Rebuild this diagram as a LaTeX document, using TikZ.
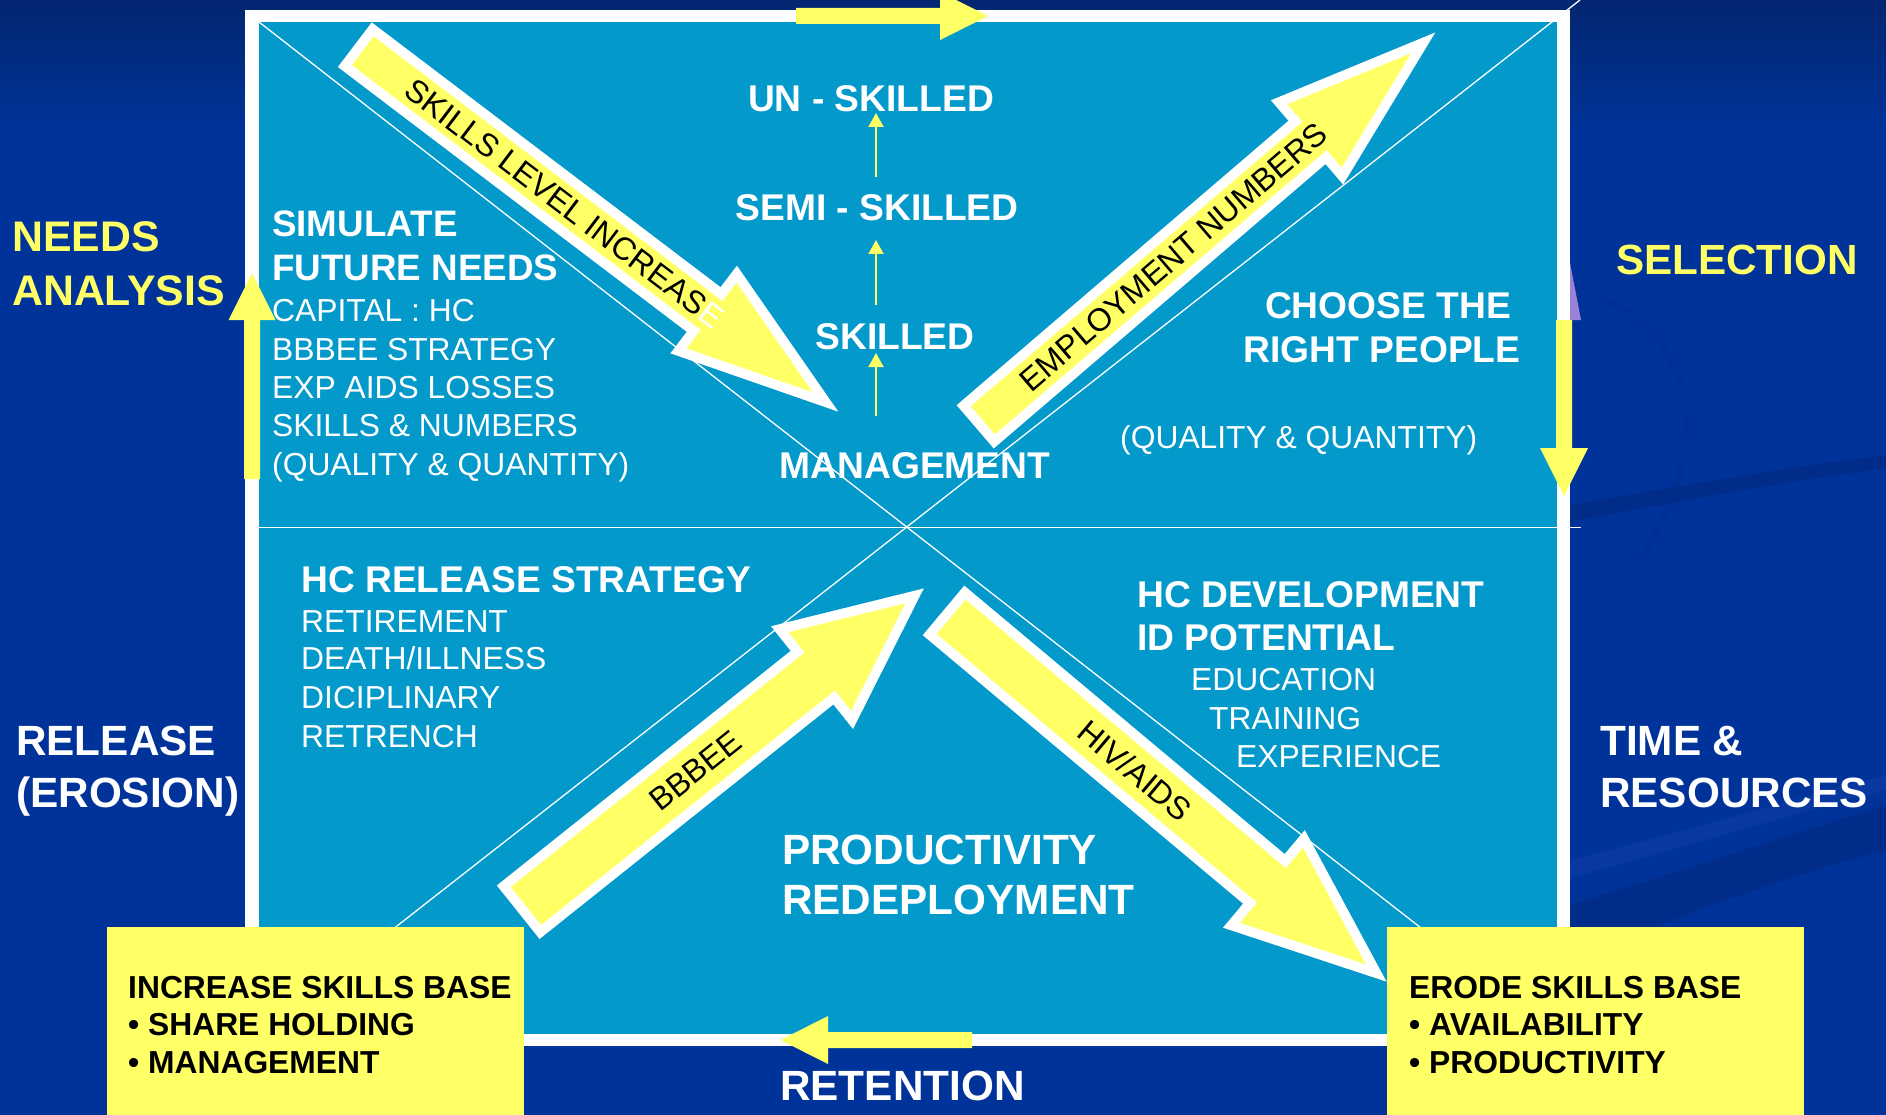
\documentclass[tikz,border=0pt]{standalone}
\usepackage{fontspec}
\setmainfont{Liberation Sans}
\usetikzlibrary{arrows.meta,calc}
\definecolor{bgblue}{HTML}{003399}
\definecolor{bgtop}{HTML}{022670}
\definecolor{panel}{HTML}{0399CB}
\definecolor{yel}{HTML}{FFFF66}
\definecolor{swdark}{HTML}{012C8A}
\definecolor{swlight}{HTML}{0838A0}
\definecolor{lav}{HTML}{9B82D9}

% block arrow with white outline: #1 name, #2 #3 tail centre, #4 angle, #5 length,
% #6 shaft width, #7 head width, #8 head length (outer dimensions)
\newcommand\blockarrow[8]{%
  \pgfmathsetmacro\BAhalf{atan((#7/2)/#8)}%
  \pgfmathsetmacro\BAt{10}%
  \pgfmathsetmacro\BAxa{#5-#8}%
  \pgfmathsetmacro\BAxb{#5-#8+\BAt}%
  \pgfmathsetmacro\BAwo{#6/2}%
  \pgfmathsetmacro\BAwi{#6/2-\BAt}%
  \pgfmathsetmacro\BAho{#7/2}%
  \pgfmathsetmacro\BAhi{(#7/2)*(#8-\BAt)/#8-\BAt/cos(\BAhalf)}%
  \pgfmathsetmacro\BAtip{#5-\BAt/sin(\BAhalf)}%
  \begin{scope}[shift={(#2,#3)},rotate=#4]
    \coordinate (#1-tail) at (0,0);
    \coordinate (#1-tip) at (#5,0);
    \fill[white] (0,-\BAwo) -- (\BAxa,-\BAwo) -- (\BAxa,-\BAho) -- (#5,0)
      -- (\BAxa,\BAho) -- (\BAxa,\BAwo) -- (0,\BAwo) -- cycle;
    \fill[yel] (\BAt,-\BAwi) -- (\BAxb,-\BAwi) -- (\BAxb,-\BAhi) -- (\BAtip,0)
      -- (\BAxb,\BAhi) -- (\BAxb,\BAwi) -- (\BAt,\BAwi) -- cycle;
  \end{scope}}

\tikzset{
  ylab/.style={text=yel, font=\bfseries\fontsize{42.8}{48}\selectfont, inner sep=0, anchor=base west},
  wlab/.style={text=white, font=\bfseries\fontsize{42.3}{48}\selectfont, inner sep=0, anchor=base west},
  whead/.style={text=white, font=\bfseries\fontsize{37.2}{44}\selectfont, inner sep=0, anchor=base west},
  wbody/.style={text=white, font=\fontsize{31.8}{38}\selectfont, inner sep=0, anchor=base west},
  btxt/.style={text=black, font=\bfseries\fontsize{31.8}{37}\selectfont, inner sep=0, anchor=base west},
  atxt/.style={text=black, font=\fontsize{32}{38}\selectfont, inner sep=0, anchor=center},
  thinarr/.style={draw=yel, line width=2pt, -{Triangle[length=14pt,width=15pt]}},
  gridline/.style={draw=white, line width=1.3pt},
  yelbox/.style={fill=yel},
}

\begin{document}
\begin{tikzpicture}[x=1pt,y=-1pt]
\useasboundingbox (0,0) rectangle (1886,1115);
\clip (0,0) rectangle (1886,1115);

% background
\fill[bgblue] (0,0) rectangle (1886,1115);
\shade[top color=bgtop, bottom color=bgblue] (0,0) rectangle (1886,130);
% swooshes on the right
\fill[swdark] (1570,505) .. controls (1700,482) and (1800,466) .. (1886,455)
  -- (1886,468) .. controls (1800,480) and (1700,497) .. (1570,522) -- cycle;
\fill[swdark] (1570,905) .. controls (1690,868) and (1790,835) .. (1886,805)
  -- (1886,850) .. controls (1780,878) and (1680,915) .. (1570,962) -- cycle;
\fill[swlight] (1570,860) .. controls (1690,830) and (1790,800) .. (1886,775)
  -- (1886,790) .. controls (1790,815) and (1690,845) .. (1570,878) -- cycle;
\draw[swdark, line width=8pt, opacity=0.35] (1600,300) .. controls (1690,330) and (1720,440) .. (1640,560);
\fill[lav] (1570,263) -- (1581,320) -- (1570,320) -- cycle;

% frame and panel
\fill[white] (245,10) rectangle (1570,1046);
\fill[panel] (259,22) rectangle (1557,1034);

% grid lines
\coordinate (tl) at (259,22);
\coordinate (br) at (1557,1034);
\coordinate (bl) at (259,1034);
\coordinate (trx) at (1580,0);
\coordinate (hl) at (259,527.5);
\coordinate (hr) at (1581,527.5);
\draw[gridline] (tl) -- (br);
\draw[gridline] (bl) -- (trx);
\draw[gridline, line width=1.8pt] (hl) -- (hr);

% yellow boxes
\node[yelbox, draw=none, inner sep=0, minimum width=417, minimum height=190, anchor=north west] (boxL) at (107,927) {};
\node[yelbox, draw=none, inner sep=0, minimum width=417, minimum height=190, anchor=north west] (boxR) at (1387,927) {};

% big block arrows
\blockarrow{arSK}{354.8}{44.7}{-37.2}{607}{56}{110}{169}
\blockarrow{arEM}{975.2}{426.8}{40.6}{606}{57}{111}{169}
\blockarrow{arBB}{518.2}{912.2}{38.6}{519}{68.5}{131.5}{143}
\blockarrow{arHV}{943.5}{610.4}{-39.96}{578}{64.7}{127.4}{160}

\node[atxt, rotate=-37.2] (lblSK) at ($(arSK-tail)!0.434!(arSK-tip)$) {SKILLS LEVEL INCREAS{\color{white}E}};
\node[atxt, rotate=40.6] (lblEM) at ($(arEM-tail)!0.431!(arEM-tip)$) {EMPLOYMENT NUMBERS};
\node[atxt, rotate=38.6] (lblBB) at ($(arBB-tail)!0.437!(arBB-tip)$) {BBBEE};
\node[atxt, rotate=-39.96] (lblHV) at ($(arHV-tail)!0.432!(arHV-tip)$) {HIV/AIDS};

% outer yellow arrows
\fill[yel] (796,8) -- (940,8) -- (940,-8) -- (988,16) -- (940,40) -- (940,24) -- (796,24) -- cycle;
\fill[yel] (244,479) -- (244,320) -- (228.5,320) -- (252,273) -- (275.5,320) -- (260,320) -- (260,479) -- cycle;
\fill[yel] (1556,320) -- (1572,320) -- (1572,448) -- (1588,448) -- (1564,496) -- (1540,448) -- (1556,448) -- cycle;
\fill[yel] (972,1032) -- (828,1032) -- (828,1016) -- (780.5,1040) -- (828,1064) -- (828,1048) -- (972,1048) -- cycle;

% small skill-level arrows
\coordinate (s1a) at (876,416);
\coordinate (s1b) at (876,353);
\coordinate (s2a) at (876,305);
\coordinate (s2b) at (876,240);
\coordinate (s3a) at (876,177);
\coordinate (s3b) at (876,113);
\draw[thinarr] (s1a) -- (s1b);
\draw[thinarr] (s2a) -- (s2b);
\draw[thinarr] (s3a) -- (s3b);

% outer labels
\node[ylab] (needs) at (12,252) {NEEDS};
\node[ylab] (analysis) at (12,305) {ANALYSIS};
\node[ylab, font=\bfseries\fontsize{42.2}{48}\selectfont] (selection) at (1616,275) {SELECTION};
\node[wlab] (release) at (16,755) {RELEASE};
\node[wlab] (erosion) at (16,807) {(EROSION)};
\node[wlab] (timeres) at (1600,755) {TIME \&};
\node[wlab] (resources) at (1600,807) {RESOURCES};
\node[wlab] (retention) at (780,1100) {RETENTION};

% top centre
\node[whead, anchor=base] (unsk) at (871,112) {UN - SKILLED};
\node[whead, anchor=base] (semisk) at (877,221) {SEMI - SKILLED};
\node[whead, anchor=base] (skilled) at (895,349) {SKILLED};
\node[whead, anchor=base] (mgmt) at (915,478) {MANAGEMENT};

% top left
\node[whead, font=\bfseries\fontsize{36.8}{44}\selectfont] (simulate) at (272,237) {SIMULATE};
\node[whead, font=\bfseries\fontsize{36.8}{44}\selectfont] (future) at (272,280) {FUTURE NEEDS};
\node[wbody] (capital) at (272,321) {CAPITAL : HC};
\node[wbody] (bbbees) at (272,360) {BBBEE STRATEGY};
\node[wbody] (aids) at (272,398) {EXP AIDS LOSSES};
\node[wbody] (sknum) at (272,436) {SKILLS \& NUMBERS};
\node[wbody] (qqL) at (272,475) {(QUALITY \& QUANTITY)};

% top right
\node[whead, anchor=base] (choose) at (1388,318) {CHOOSE THE};
\node[whead, anchor=base] (rightppl) at (1382,362) {RIGHT PEOPLE};
\node[wbody] (qqR) at (1120,448) {(QUALITY \& QUANTITY)};

% bottom left
\node[whead] (hcrel) at (301,592) {HC RELEASE STRATEGY};
\node[wbody] (retire) at (301,632) {RETIREMENT};
\node[wbody] (death) at (301,669) {DEATH/ILLNESS};
\node[wbody] (discip) at (301,708) {DICIPLINARY};
\node[wbody] (retrench) at (301,747) {RETRENCH};

% bottom right
\node[whead] (hcdev) at (1137,607) {HC DEVELOPMENT};
\node[whead] (idpot) at (1137,650) {ID POTENTIAL};
\node[wbody] (edu) at (1191,690) {EDUCATION};
\node[wbody] (train) at (1209,729) {TRAINING};
\node[wbody] (exper) at (1236,767) {EXPERIENCE};

% bottom centre
\node[wlab] (productivity) at (782,864) {PRODUCTIVITY};
\node[wlab] (redeploy) at (782,914) {REDEPLOYMENT};

% box texts
\node[btxt] (incr) at (128,998) {INCREASE SKILLS BASE};
\node[btxt] (share) at (128,1035) {• SHARE HOLDING};
\node[btxt] (mgmtb) at (128,1073) {• MANAGEMENT};
\node[btxt] (erode) at (1409,998) {ERODE SKILLS BASE};
\node[btxt] (avail) at (1409,1035) {• AVAILABILITY};
\node[btxt] (prodb) at (1409,1073) {• PRODUCTIVITY};
\end{tikzpicture}
\end{document}
